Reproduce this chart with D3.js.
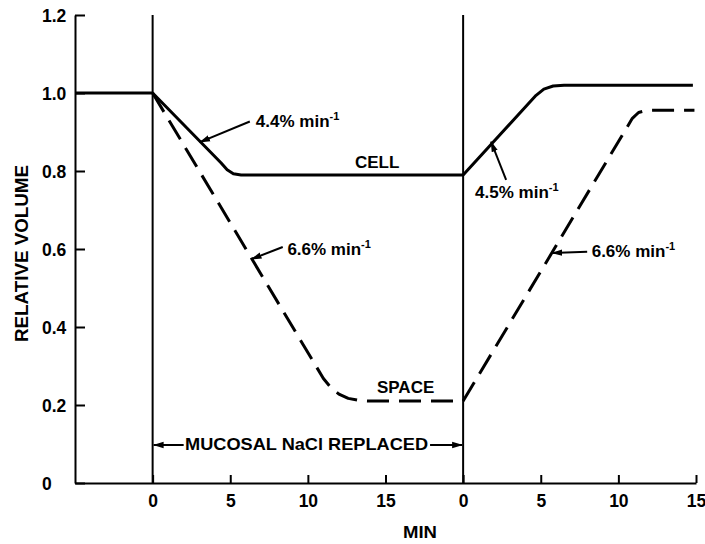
<!DOCTYPE html>
<html>
<head>
<meta charset="utf-8">
<script src="https://cdn.jsdelivr.net/npm/d3@7"></script>
<style>
  html, body { margin: 0; padding: 0; background: #fff; }
  svg { display: block; }
  text { font-family: "Liberation Sans", Arial, Helvetica, sans-serif; font-weight: bold; fill: #000; }
</style>
</head>
<body>
<svg id="chart" width="705" height="544"></svg>
<script>
// ---------------- DATA ----------------
const timeTicks = [0, 5, 10, 15, 20, 25, 30, 35];
const timeTickLabels = ["0", "5", "10", "15", "0", "5", "10", "15"];
const volumeTicks = [0, 0.2, 0.4, 0.6, 0.8, 1.0, 1.2];
const volumeTickLabels = ["0", "0.2", "0.4", "0.6", "0.8", "1.0", "1.2"];

// CELL (solid)
const cellTime   = [-5, 0, 4.4, 4.8, 5.2, 5.7, 20, 24.7, 25.2, 25.8, 26.5, 34.8];
const cellVolume = [1.0, 1.0, 0.821, 0.803, 0.793, 0.79, 0.79, 0.994, 1.01, 1.018, 1.02, 1.02];

// SPACE (dashed)
const spaceTime   = [0, 11.0, 11.5, 12.0, 12.6, 13.4, 14.0, 20, 30.9, 31.3, 31.9, 34.9];
const spaceVolume = [1.0, 0.268, 0.244, 0.228, 0.217, 0.211, 0.21, 0.21, 0.935, 0.95, 0.956, 0.956];

// Times at which mucosal NaCl replacement starts / ends
const replacementTimes = [0, 20];

// Rate annotations
const rateLabels = ["4.4%", "6.6%", "4.5%", "6.6%"];
const seriesLabels = ["CELL", "SPACE"];
const periodLabel = "MUCOSAL NaCl  REPLACED";

// ---------------- LAYOUT ----------------
const svg = d3.select("#chart");
const x = d3.scaleLinear().domain([-5, 35]).range([75, 696]);
const y = d3.scaleLinear().domain([0, 1.2]).range([483, 15]);

// annotation positions (data units)
const rateTextPos  = [[6.65, 0.914], [8.68, 0.585], [20.77, 0.730], [28.28, 0.580]];
const rateArrowFrom = [[6.26, 0.927], [8.38, 0.605], [22.77, 0.777], [27.99, 0.593]];
const rateArrowTo   = [[3.05, 0.874], [6.37, 0.574], [21.80, 0.875], [25.74, 0.590]];
const seriesLabelPos = [[13.03, 0.807], [14.45, 0.23]];

// arrow marker
const defs = svg.append("defs");
defs.append("marker")
  .attr("id", "arrow")
  .attr("viewBox", "0 -4 11 8")
  .attr("refX", 10).attr("refY", 0)
  .attr("markerWidth", 11).attr("markerHeight", 8)
  .attr("markerUnits", "userSpaceOnUse")
  .attr("orient", "auto")
  .append("path").attr("d", "M0,-3.2L11,0L0,3.2Z").attr("fill", "#000");

// ---------------- AXES ----------------
const yAxis = d3.axisLeft(y)
  .tickValues(volumeTicks)
  .tickFormat((d, i) => volumeTickLabels[i])
  .tickSizeInner(-10).tickSizeOuter(0).tickPadding(0);
const gy = svg.append("g").attr("transform", `translate(${x(-5)},0)`).call(yAxis);
gy.select(".domain").attr("stroke", "#000").attr("stroke-width", 2);
gy.selectAll(".tick line").attr("stroke", "#000").attr("stroke-width", 2);
gy.selectAll(".tick text")
  .attr("text-anchor", "start")
  .attr("x", -33)
  .attr("dy", "0.36em")
  .style("font-size", "17.5px")
  .style("font-family", "'Liberation Sans', Arial, sans-serif")
  .style("font-weight", "bold");

const xAxis = d3.axisBottom(x)
  .tickValues(timeTicks)
  .tickFormat((d, i) => timeTickLabels[i])
  .tickSizeInner(-8).tickSizeOuter(0).tickPadding(12);
const gx = svg.append("g").attr("transform", `translate(0,${y(0)})`).call(xAxis);
gx.select(".domain").attr("stroke", "#000").attr("stroke-width", 2);
gx.selectAll(".tick line").attr("stroke", "#000").attr("stroke-width", 2);
gx.selectAll(".tick text")
  .style("font-size", "17.5px")
  .style("font-family", "'Liberation Sans', Arial, sans-serif")
  .style("font-weight", "bold");

// axis titles
svg.append("text")
  .attr("x", 420).attr("y", 538)
  .attr("text-anchor", "middle")
  .attr("textLength", 34).attr("lengthAdjust", "spacingAndGlyphs")
  .style("font-size", "17px")
  .text("MIN");

svg.append("text")
  .attr("transform", `translate(28,253.5) rotate(-90)`)
  .attr("text-anchor", "middle")
  .attr("textLength", 177).attr("lengthAdjust", "spacingAndGlyphs")
  .style("font-size", "19px")
  .text("RELATIVE VOLUME");

// vertical replacement lines
svg.selectAll("line.repl")
  .data(replacementTimes)
  .enter().append("line")
  .attr("class", "repl")
  .attr("x1", d => x(d)).attr("x2", d => x(d))
  .attr("y1", y(1.2)).attr("y2", y(0))
  .attr("stroke", "#000").attr("stroke-width", 2);

// ---------------- SERIES ----------------
const line = d3.line().x(d => x(d[0])).y(d => y(d[1])).curve(d3.curveLinear);

svg.append("path")
  .datum(cellTime.map((t, i) => [t, cellVolume[i]]))
  .attr("d", line)
  .attr("fill", "none").attr("stroke", "#000").attr("stroke-width", 3)
  .attr("stroke-linejoin", "round");

svg.append("path")
  .datum(spaceTime.map((t, i) => [t, spaceVolume[i]]))
  .attr("d", line)
  .attr("fill", "none").attr("stroke", "#000").attr("stroke-width", 3)
  .attr("stroke-dasharray", "22,10")
  .attr("stroke-linejoin", "round");

// ---------------- ANNOTATIONS ----------------
rateLabels.forEach((lab, i) => {
  svg.append("line")
    .attr("x1", x(rateArrowFrom[i][0])).attr("y1", y(rateArrowFrom[i][1]))
    .attr("x2", x(rateArrowTo[i][0])).attr("y2", y(rateArrowTo[i][1]))
    .attr("stroke", "#000").attr("stroke-width", 2)
    .attr("marker-end", "url(#arrow)");
  const t = svg.append("text")
    .attr("x", x(rateTextPos[i][0])).attr("y", y(rateTextPos[i][1]))
    .style("font-size", "17px");
  t.append("tspan").text(lab + " min");
  t.append("tspan").attr("dy", -7).style("font-size", "11px").text("-1");
});

seriesLabels.forEach((lab, i) => {
  svg.append("text")
    .attr("x", x(seriesLabelPos[i][0])).attr("y", y(seriesLabelPos[i][1]))
    .style("font-size", "17px")
    .text(lab);
});

// MUCOSAL NaCl REPLACED
const periodY = 0.0974;
svg.append("text")
  .attr("x", x(2.09)).attr("y", y(0.0846))
  .attr("textLength", 243).attr("lengthAdjust", "spacingAndGlyphs")
  .style("font-size", "17px")
  .text(periodLabel);
svg.append("line")
  .attr("x1", x(2.0)).attr("y1", y(periodY))
  .attr("x2", x(replacementTimes[0]) + 1).attr("y2", y(periodY))
  .attr("stroke", "#000").attr("stroke-width", 2)
  .attr("marker-end", "url(#arrow)");
svg.append("line")
  .attr("x1", x(17.87)).attr("y1", y(periodY))
  .attr("x2", x(replacementTimes[1]) - 1).attr("y2", y(periodY))
  .attr("stroke", "#000").attr("stroke-width", 2)
  .attr("marker-end", "url(#arrow)");
</script>
</body>
</html>
